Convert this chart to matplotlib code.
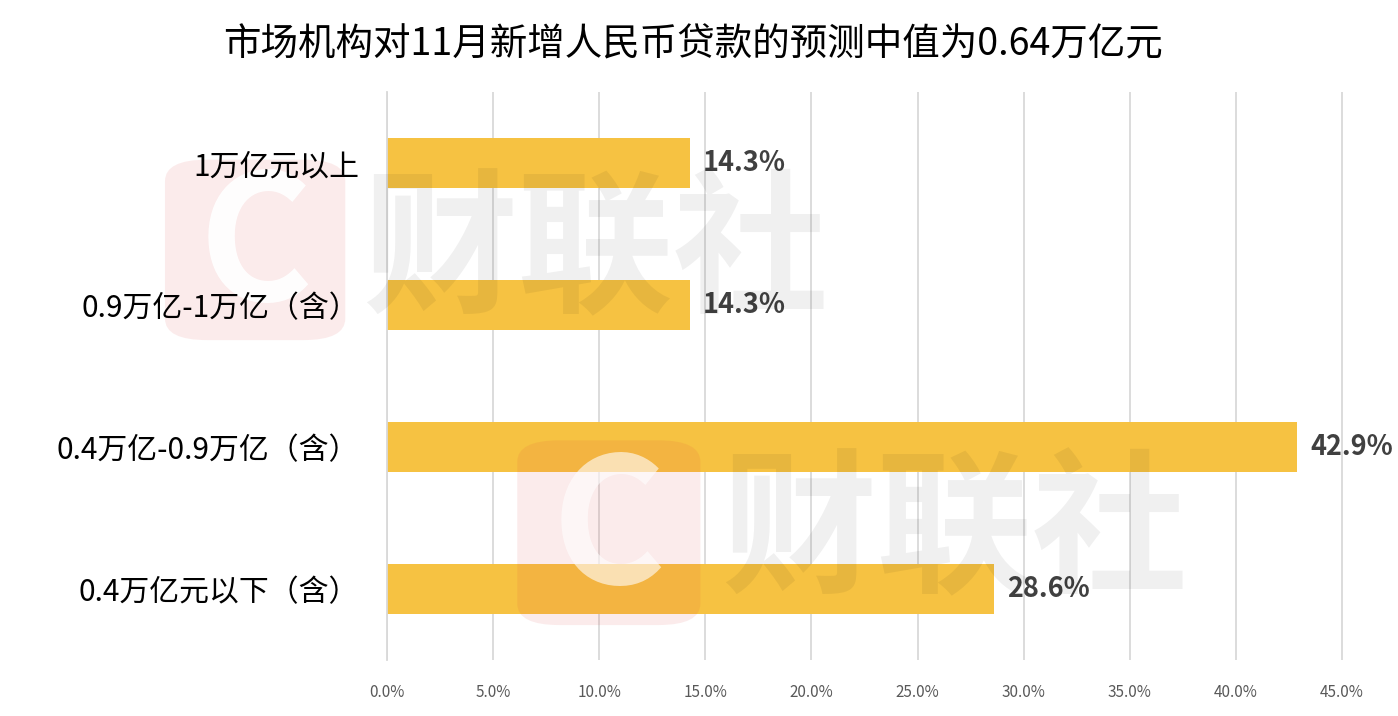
import matplotlib
matplotlib.use('Agg')
import matplotlib.pyplot as plt
from matplotlib.patches import FancyBboxPatch
from matplotlib.ticker import FuncFormatter

plt.rcParams['font.family'] = ['Noto Sans CJK SC', 'DejaVu Sans']

title = '市场机构对11月新增人民币贷款的预测中值为0.64万亿元'
categories = ['1万亿元以上', '0.9万亿-1万亿（含）', '0.4万亿-0.9万亿（含）', '0.4万亿元以下（含）']
shares = [14.3, 14.3, 42.9, 28.6]
xticks = [0, 5, 10, 15, 20, 25, 30, 35, 40, 45]

fig = plt.figure(figsize=(13.98, 7.16), dpi=100, facecolor='white')
ax = fig.add_axes([387/1398, 56/716, (1380-387)/1398, (660-92)/716])
ax.patch.set_alpha(0)

ypos = list(range(len(categories)))
ax.barh(ypos, shares, height=0.35, color='#F6C242', zorder=2)
for y, v in zip(ypos, shares):
    ax.text(v + 0.6, y, f'{v:.1f}%', va='center', ha='left', fontsize=19.5,
            fontweight='bold', color='#404040', zorder=3)

ax.set_ylim(3.5, -0.5)
ax.set_xlim(0, 45 * (1380-387) / (1342-387))
ax.set_yticks(ypos)
ax.set_yticklabels(categories, fontsize=21.5, color='black')
ax.set_xticks(xticks)
ax.xaxis.set_major_formatter(FuncFormatter(lambda v, p: f'{v:.1f}%'))
ax.tick_params(axis='x', labelsize=11, colors='#595959', length=0, pad=17)
ax.tick_params(axis='y', length=0, pad=20)
ax.grid(axis='x', color='#D9D9D9', linewidth=1.3, zorder=0)
for s in ['top', 'right', 'bottom']:
    ax.spines[s].set_visible(False)
ax.spines['left'].set_color('#D9D9D9')
ax.spines['left'].set_linewidth(1.3)

fig.text(0.496, 0.937, title, ha='center', va='center', fontsize=27,
         fontweight='medium', color='black')

# watermarks: the upper logo box sits behind the labels, the rest on top of the bars
for i, (x0, y0, w, h, tx, ty) in enumerate([(0.118, 0.525, 0.129, 0.252, 0.426, 0.644),
                                            (0.370, 0.127, 0.131, 0.258, 0.683, 0.253)]):
    z = -2 if i == 0 else 5
    box = FancyBboxPatch((x0, y0), w, h, boxstyle='round,pad=0,rounding_size=0.03',
                         transform=fig.transFigure, facecolor='#E04040', alpha=0.1,
                         edgecolor='none', zorder=z)
    fig.patches.append(box)
    fig.text(x0 + w/2, y0 + h/2, 'C', ha='center', va='center', fontsize=125,
             fontweight='bold', color='white', alpha=0.95 if i == 0 else 0.6, zorder=z + 1)
    fig.text(tx, ty, '财联社', ha='center', va='center', fontsize=112,
             fontweight='bold', color='black', alpha=0.06, zorder=6)

fig.savefig('out.png', dpi=100, facecolor='white')
